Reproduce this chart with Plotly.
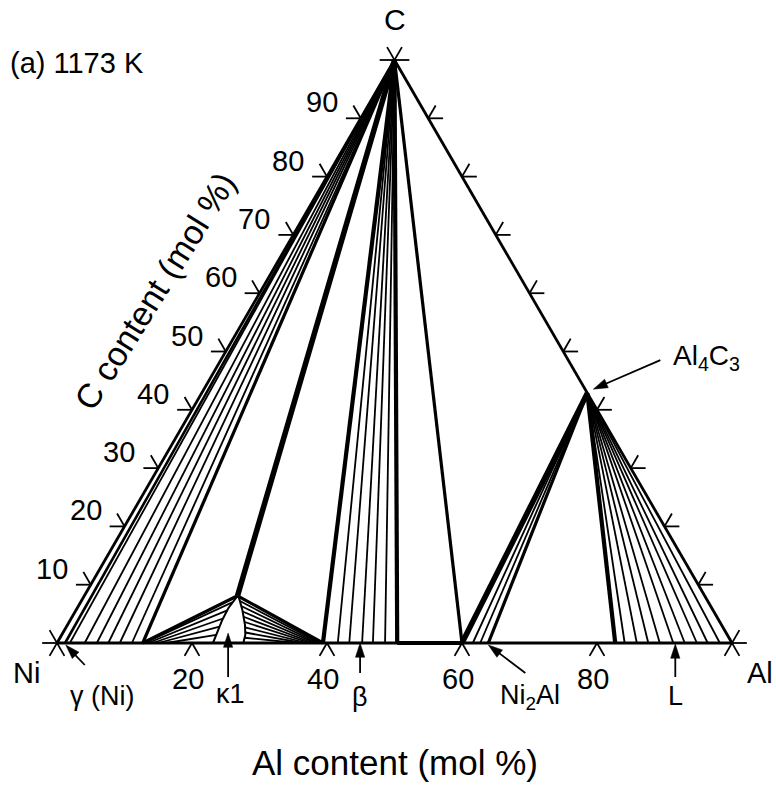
import plotly.graph_objects as go

# ---------------- composition data (Al mol %, C mol %) ----------------
c_apex = (0.0, 100.0)
al4c3 = (57.14, 42.86)
kappa_peak = (22.7, 8.1)

# C + gamma(Ni): Al content of the gamma end of each tie line
gamma_c_ties_al = [1.9, 4.1, 5.9, 7.6, 9.3, 11.1]
gamma_limits_al = [1.2, 12.7]

# C + beta
beta_c_ties_al = [41.6, 43.3, 45.2, 46.8, 48.6]
beta_limits_al = [39.4, 50.4]

# Al4C3 + Ni2Al3
ni2al3_ties_al = [61.6, 62.7]
ni2al3_limits_al = [60.0, 63.9]

# Al4C3 + L
liquid_ties_al = [84.1, 85.9, 87.6, 89.3, 91.3, 93.0, 94.8, 96.4, 98.2]
liquid_limit_al = 82.7

# kappa1 single-phase field boundaries
kappa_left_al = [22.7, 22.4, 22.5, 22.8, 23.1]
kappa_left_c = [8.1, 6.0, 4.0, 2.0, 0.0]
kappa_right_al = [22.9, 24.6, 26.3, 27.2, 27.6]
kappa_right_c = [8.0, 5.7, 3.1, 1.4, 0.0]

# kappa1 + gamma tie lines
kg_gamma_al = [13.0, 13.5, 14.2, 15.0, 16.2]
kg_kappa_al = [22.55, 22.42, 22.49, 22.68, 22.89]
kg_kappa_c = [7.0, 5.6, 4.2, 2.8, 1.4]

# kappa1 + beta tie lines
kb_kappa_al = [23.5, 24.2, 24.8, 25.4, 26.0, 26.5, 27.0, 27.35]
kb_kappa_c = [7.2, 6.3, 5.4, 4.5, 3.6, 2.7, 1.8, 0.9]
kb_beta_al = [38.9, 38.6, 38.3, 37.9, 37.5, 37.0, 36.4, 35.6]

# axis ticks
tick_c = [10, 20, 30, 40, 50, 60, 70, 80, 90]
tick_c_labels = ["10", "20", "30", "40", "50", "60", "70", "80", "90"]
tick_al = [20, 40, 60, 80]
tick_al_labels = ["20", "40", "60", "80"]
tick_len = 2.2  # mol %

# phase pointers: (label, Al, C)
phase_gamma = ("γ (Ni)", 1.3, 0.0)
phase_kappa = ("κ1", 24.5, 1.7)
phase_beta = ("β", 44.9, 0.0)
phase_ni2al = ("Ni<sub>2</sub>Al", 63.9, 0.0)
phase_liquid = ("L", 91.6, 0.0)

FONT = "Liberation Sans, Arial, Helvetica, sans-serif"
PX_X = 6.75   # pixels per x unit
PX_Y = 5.83   # pixels per y unit


def xy(al, c):
    """Ternary (Al, C) composition -> cartesian coordinates."""
    return al + c / 2.0, c


def seg_trace(segs, width):
    xs, ys = [], []
    for (a1, c1), (a2, c2) in segs:
        x1, y1 = xy(a1, c1)
        x2, y2 = xy(a2, c2)
        xs += [x1, x2, None]
        ys += [y1, y2, None]
    return go.Scatter(x=xs, y=ys, mode="lines",
                      line=dict(color="black", width=width),
                      hoverinfo="skip", showlegend=False)


def poly_trace(als, cs, width):
    pts = [xy(a, c) for a, c in zip(als, cs)]
    return go.Scatter(x=[p[0] for p in pts], y=[p[1] for p in pts],
                      mode="lines", line=dict(color="black", width=width),
                      hoverinfo="skip", showlegend=False)


def arrow_trace(al, c, tip_px, tail_px):
    """Pointer to composition (al, c); offsets in screen pixels (right, down)."""
    x0, y0 = xy(al, c)
    tx, ty = x0 + tip_px[0] / PX_X, y0 - tip_px[1] / PX_Y
    sx, sy = x0 + tail_px[0] / PX_X, y0 - tail_px[1] / PX_Y
    return go.Scatter(x=[sx, tx], y=[sy, ty], mode="lines+markers",
                      line=dict(color="black", width=1.8),
                      marker=dict(symbol=["line-ns", "arrow"], size=[0, 15],
                                  color="black", opacity=1,
                                  angleref="previous",
                                  line=dict(width=0.5, color="black")),
                      hoverinfo="skip", showlegend=False)


fig = go.Figure()

# thin tie lines
thin = []
thin += [(c_apex, (a, 0.0)) for a in gamma_c_ties_al]
thin += [(c_apex, (a, 0.0)) for a in beta_c_ties_al]
thin += [(al4c3, (a, 0.0)) for a in ni2al3_ties_al]
thin += [(al4c3, (a, 0.0)) for a in liquid_ties_al]
thin += [((g, 0.0), (ka, kc)) for g, ka, kc in zip(kg_gamma_al, kg_kappa_al, kg_kappa_c)]
thin += [((ka, kc), (b, 0.0)) for ka, kc, b in zip(kb_kappa_al, kb_kappa_c, kb_beta_al)]
fig.add_trace(seg_trace(thin, 1.8))

# kappa1 field
fig.add_trace(poly_trace(kappa_left_al, kappa_left_c, 2.0))
fig.add_trace(poly_trace(kappa_right_al, kappa_right_c, 2.0))

# triangle edges
ni, al, c = (0.0, 0.0), (100.0, 0.0), (0.0, 100.0)
fig.add_trace(seg_trace([(ni, al), (al, c), (c, ni)], 2.8))

# three-phase boundaries
fig.add_trace(seg_trace([(c_apex, (gamma_limits_al[0], 0.0))], 2.6))
fig.add_trace(seg_trace([(c_apex, (gamma_limits_al[1], 0.0)),
                         ((gamma_limits_al[1], 0.0), kappa_peak),
                         (kappa_peak, (beta_limits_al[0], 0.0)),
                         (c_apex, (ni2al3_limits_al[0], 0.0)),
                         (al4c3, (ni2al3_limits_al[1], 0.0))], 3.2))
fig.add_trace(seg_trace([(c_apex, (beta_limits_al[0], 0.0)),
                         (c_apex, (beta_limits_al[1], 0.0)),
                         ((beta_limits_al[1], 0.0), (ni2al3_limits_al[0], 0.0)),
                         (al4c3, (liquid_limit_al, 0.0))], 4.2))
fig.add_trace(seg_trace([(c_apex, kappa_peak),
                         (al4c3, (ni2al3_limits_al[0], 0.0))], 5.5))

# tick marks (stubs along the two outward grid directions)
d = tick_len
ticks = []
for k in tick_c:
    ticks += [((0.0, k), (-d, k)), ((0.0, k), (-d, k + d))]
    ticks += [((100.0 - k, k), (100.0 - k + d, k)), ((100.0 - k, k), (100.0 - k, k + d))]
for k in tick_al:
    ticks += [((k, 0.0), (k, -d)), ((k, 0.0), (k + d, -d))]
for va, vc in [ni, al, c]:
    ticks += [((va - d, vc), (va + d, vc)),
              ((va, vc - d), (va, vc + d)),
              ((va + d, vc - d), (va - d, vc + d))]
fig.add_trace(seg_trace(ticks, 1.8))

# phase pointers
fig.add_trace(arrow_trace(phase_gamma[1], phase_gamma[2], (0, 2), (19, 22)))
fig.add_trace(arrow_trace(phase_kappa[1], phase_kappa[2], (0, 0), (0, 44)))
fig.add_trace(arrow_trace(phase_beta[1], phase_beta[2], (0, 0), (0, 30)))
fig.add_trace(arrow_trace(phase_ni2al[1], phase_ni2al[2], (0, 2), (37, 30)))
fig.add_trace(arrow_trace(phase_liquid[1], phase_liquid[2], (0, 1), (0, 34)))
fig.add_trace(arrow_trace(al4c3[0], al4c3[1], (6, -4), (73, -33)))

ann = []


def text(x, y, s, size, **kw):
    ann.append(dict(x=x, y=y, text=s, showarrow=False,
                    xanchor="center", yanchor="middle",
                    font=dict(family=FONT, size=size, color="black"), **kw))


# C-axis labels along the left edge
for k, lab in zip(tick_c, tick_c_labels):
    x, y = xy(0.0, k)
    text(x, y, lab, 29, xshift=-39, yshift=16)
# Al-axis labels under the base
for k, lab in zip(tick_al, tick_al_labels):
    x, y = xy(k, 0.0)
    text(x, y, lab, 29, xshift=-4, yshift=-36)

# corner labels
text(*xy(*c), "C", 30, yshift=41)
text(*xy(*ni), "Ni", 29, xshift=-31, yshift=-30)
text(*xy(*al), "Al", 29, xshift=28, yshift=-30)

# phase labels
for (lab, pa, pc), (tx, ty) in [(phase_gamma, (36, -53)),
                                (phase_kappa, (2, -61)),
                                (phase_beta, (0, -54)),
                                (phase_ni2al, (42, -54)),
                                (phase_liquid, (0, -53))]:
    x, y = xy(pa, pc)
    text(x, y, lab, 27, xshift=tx, yshift=ty)

x4, y4 = xy(*al4c3)
text(x4, y4, "Al<sub>4</sub>C<sub>3</sub>", 28, xshift=119, yshift=36)

# titles
ann.append(dict(x=8 / 776, y=1 - 63 / 792, xref="paper", yref="paper",
                xanchor="left", yanchor="middle", text="(a) 1173 K",
                showarrow=False,
                font=dict(family=FONT, size=29, color="black")))
ann.append(dict(x=395 / 776, y=1 - 762 / 792, xref="paper", yref="paper",
                xanchor="center", yanchor="middle",
                text="Al content (mol %)", showarrow=False,
                font=dict(family=FONT, size=35, color="black")))
ann.append(dict(x=155 / 776, y=1 - 291 / 792, xref="paper", yref="paper",
                xanchor="center", yanchor="middle",
                text="C content (mol %)", showarrow=False, textangle=-58,
                font=dict(family=FONT, size=34, color="black")))

fig.update_layout(
    width=776, height=792,
    margin=dict(l=0, r=0, t=0, b=0),
    paper_bgcolor="white", plot_bgcolor="white",
    xaxis=dict(range=[-57 / PX_X, 719 / PX_X], visible=False, fixedrange=True),
    yaxis=dict(range=[-149 / PX_Y, 643 / PX_Y], visible=False, fixedrange=True),
    annotations=ann,
    showlegend=False,
)

fig.write_html("out.html")
